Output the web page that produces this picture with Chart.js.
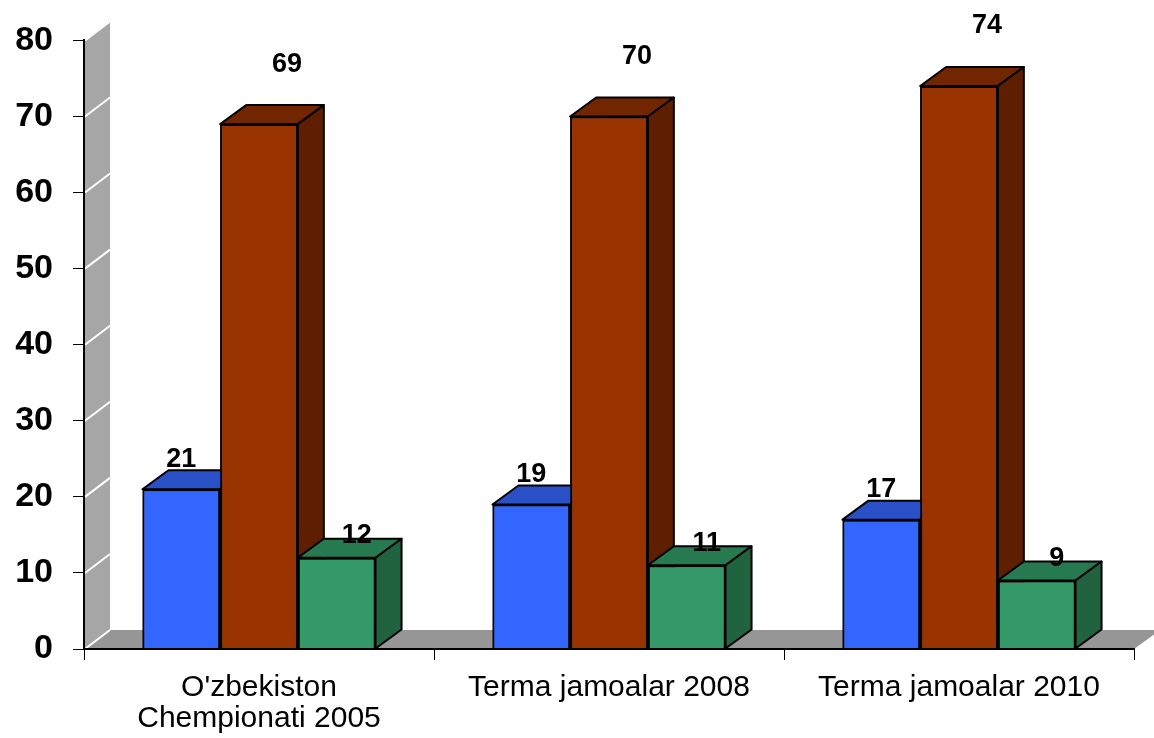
<!DOCTYPE html>
<html>
<head>
<meta charset="utf-8">
<script src="https://cdn.jsdelivr.net/npm/chart.js@4/dist/chart.umd.min.js"></script>
<style>
  html, body { margin: 0; padding: 0; background: #fff; }
  #wrap { width: 1154px; height: 738px; position: relative; }
</style>
</head>
<body>
<div id="wrap"><canvas id="chart"></canvas></div>
<script>
// chart data
const categories = [["O'zbekiston", 'Chempionati 2005'], 'Terma jamoalar 2008', 'Terma jamoalar 2010'];
const blueValues = [21, 19, 17];
const redValues = [69, 70, 74];
const greenValues = [12, 11, 9];
const yMin = 0;
const yMax = 80;
const yStep = 10;

// fake 3d depth
const depthX = 26;
const depthY = -19;

function poly(ctx, pts, fill) {
  ctx.beginPath();
  ctx.moveTo(pts[0][0], pts[0][1]);
  for (let i = 1; i < pts.length; i++) ctx.lineTo(pts[i][0], pts[i][1]);
  ctx.closePath();
  ctx.fillStyle = fill;
  ctx.fill();
}

const box3d = {
  id: 'box3d',
  beforeDatasetsDraw(chart) {
    const ctx = chart.ctx;
    const a = chart.chartArea;
    const y = chart.scales.y;
    ctx.save();
    // back wall
    poly(ctx, [[a.left, a.bottom], [a.left, a.top], [a.left + depthX, a.top + depthY], [a.left + depthX, a.bottom + depthY]], '#a6a6a6');
    // floor
    poly(ctx, [[a.left, a.bottom], [a.right, a.bottom], [a.right + depthX, a.bottom + depthY], [a.left + depthX, a.bottom + depthY]], '#969696');
    // white grid lines on the wall
    ctx.strokeStyle = '#ffffff';
    ctx.lineWidth = 2;
    for (let v = yMin; v <= yMax; v += yStep) {
      const py = y.getPixelForValue(v);
      ctx.beginPath();
      ctx.moveTo(a.left + 1, py);
      ctx.lineTo(a.left + depthX, py + depthY);
      ctx.stroke();
    }
    ctx.restore();
  },
  // chart.js paints datasets last-to-first, so repaint them left-to-right
  // to get the boxes overlapping like the 3d original
  afterDatasetsDraw(chart) {
    const ctx = chart.ctx;
    ctx.save();
    chart.data.datasets.forEach((ds, di) => {
      const meta = chart.getDatasetMeta(di);
      meta.data.forEach((bar, i) => {
        bar.draw(ctx);
        const l = bar.x - bar.width / 2;
        const r = bar.x + bar.width / 2;
        const t = bar.y;
        const b = bar.base;
        ctx.lineWidth = 2;
        ctx.strokeStyle = '#000';
        ctx.lineJoin = 'round';
        poly(ctx, [[l, t], [l + depthX, t + depthY], [r + depthX, t + depthY], [r, t]], ds.topColor);
        ctx.stroke();
        poly(ctx, [[r, t], [r + depthX, t + depthY], [r + depthX, b + depthY], [r, b]], ds.sideColor);
        ctx.stroke();
        // value label
        ctx.fillStyle = '#000';
        ctx.font = 'bold 27px "Liberation Sans", Arial, sans-serif';
        ctx.textAlign = 'center';
        ctx.textBaseline = 'middle';
        ctx.fillText(String(ds.data[i]), bar.x + ds.labelDx, t + ds.labelDy);
      });
    });
    ctx.restore();
  }
};

const ctx = document.getElementById('chart').getContext('2d');
const chart = new Chart(ctx, {
  type: 'bar',
  data: {
    labels: categories,
    datasets: [
      {
        label: 'Series 1',
        data: blueValues,
        backgroundColor: '#3366ff',
        topColor: '#2a50c8',
        sideColor: '#1f3d99',
        labelDx: 0,
        labelDy: -30
      },
      {
        label: 'Series 2',
        data: redValues,
        backgroundColor: '#993300',
        topColor: '#722600',
        sideColor: '#5e1f00',
        labelDx: 28,
        labelDy: -60
      },
      {
        label: 'Series 3',
        data: greenValues,
        backgroundColor: '#339966',
        topColor: '#277a4f',
        sideColor: '#22633f',
        labelDx: 20,
        labelDy: -22
      }
    ]
  },
  options: {
    responsive: true,
    maintainAspectRatio: false,
    animation: false,
    layout: { padding: { left: 0, top: 35, right: 20, bottom: 0 } },
    datasets: {
      bar: {
        borderColor: '#000',
        borderWidth: 2,
        categoryPercentage: 0.666,
        barPercentage: 1
      }
    },
    plugins: {
      legend: { display: false },
      tooltip: { enabled: false }
    },
    scales: {
      x: {
        grid: { drawOnChartArea: false, color: '#000', tickLength: 11, lineWidth: 1 },
        border: { color: '#000', width: 2, z: 1 },
        ticks: {
          color: '#000',
          padding: 12,
          maxRotation: 0,
          font: { family: '"Liberation Sans", Arial, sans-serif', size: 30, lineHeight: '31px' }
        },
        afterFit(scale) { scale.height = 89; }
      },
      y: {
        min: yMin,
        max: yMax,
        grid: { drawOnChartArea: false, color: '#000', tickLength: 11, lineWidth: 1 },
        border: { color: '#000', width: 2, z: 1 },
        ticks: {
          stepSize: yStep,
          color: '#000',
          padding: 20,
          font: { family: '"Liberation Sans", Arial, sans-serif', size: 34, weight: 'bold' }
        },
        afterFit(scale) { scale.width = 84; }
      }
    }
  },
  plugins: [box3d]
});
</script>
</body>
</html>
